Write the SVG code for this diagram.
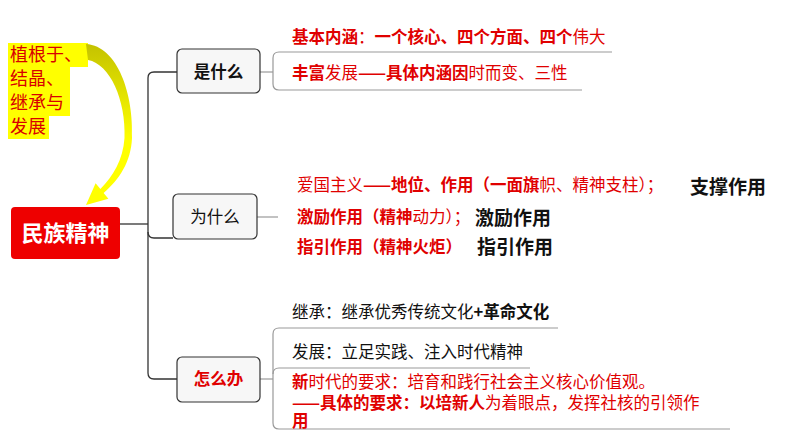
<svg xmlns="http://www.w3.org/2000/svg" width="794" height="447" viewBox="0 0 794 447">
<defs>
<linearGradient id="ag" gradientUnits="userSpaceOnUse" x1="0" y1="44" x2="0" y2="205">
<stop offset="0" stop-color="#C4C200"/>
<stop offset="0.35" stop-color="#E6E600"/>
<stop offset="0.6" stop-color="#FFFF00"/>
<stop offset="1" stop-color="#FFFF00"/>
</linearGradient>
</defs>
<style>
text{font-family:"Noto Sans CJK SC","Microsoft YaHei",sans-serif;}
.r{fill:#E00000;font-size:16.5px;}
.k{fill:#111;font-size:16.5px;}
.kb{fill:#111;font-size:19px;font-weight:bold;}
.b{font-weight:bold;}
.box{fill:#F7F7F7;stroke:#333;stroke-width:1.2;}
.trunk{fill:none;stroke:#333;stroke-width:1.3;}
.br{fill:none;stroke:#999;stroke-width:1.2;}
</style>
<rect width="794" height="447" fill="#fff"/>

<g id="note">
<path d="M8,43 H88 V67 H70 V116 H49 V139 H8 Z" fill="#FFFF00"/>
<text x="10" y="61" fill="#D80000" font-size="18">植根于、</text>
<text x="10" y="85" fill="#D80000" font-size="18">结晶、</text>
<text x="10" y="109" fill="#D80000" font-size="18">继承与</text>
<text x="10" y="133" fill="#D80000" font-size="18">发展</text>
<path d="M86,44 C118,46 134,95 132,138 C131,162 119,180 103.6,192.9 L108.4,198.7 L86,205 L95.6,183.3 L100.4,189.1 C113,176 123,160 124.5,138 C126,100 110,64 88,60 Z" fill="url(#ag)"/>
</g>

<g id="connectors">
<path class="trunk" d="M120,224 H148"/>
<path class="trunk" d="M177,72 H154 Q148,72 148,78 V373 Q148,379 154,379 H177"/>
<path class="trunk" d="M148,232 Q148,238 154,238 H173"/>
<path class="br" d="M260,72 H273"/>
<path class="br" d="M612,52 H279 Q273,52 273,58 V84 Q273,90 279,90 H582"/>
<path class="br" d="M257,217 H278"/>
<path class="br" d="M260,379 H273"/>
<path class="br" d="M558,328 H279 Q273,328 273,334 V423 Q273,429 279,429 H730"/>
<path class="br" d="M530,368 H279 Q273,368 273,374"/>
</g>

<g id="root">
<rect x="11" y="207" width="109" height="52" rx="4" fill="#EE0000"/>
<text x="65.5" y="241" fill="#fff" font-size="22" font-weight="bold" text-anchor="middle">民族精神</text>
</g>

<g id="what">
<rect class="box" x="177" y="49" width="83" height="44" rx="5"/>
<text x="218.5" y="78" class="k b" text-anchor="middle">是什么</text>
</g>
<g id="what-items">
<text x="292" y="43" class="r"><tspan class="b">基本内涵</tspan>：<tspan class="b">一个核心、四个方面、四个</tspan>伟大</text>
<text x="292" y="79" class="r"><tspan class="b">丰富</tspan>发展<tspan class="b">——具体内涵因</tspan>时而变、三性</text>
</g>

<g id="why">
<rect class="box" x="173" y="194" width="84" height="45" rx="5"/>
<text x="215" y="223" class="k" text-anchor="middle">为什么</text>
</g>
<g id="why-items">
<text x="297" y="191" class="r">爱国主义<tspan class="b">——地位、作用（一面旗</tspan>帜、精神支柱）；</text>
<text x="690" y="194" class="kb">支撑作用</text>
<text x="297" y="223" class="r"><tspan class="b">激励作用（精神</tspan>动力）；</text>
<text x="475" y="225" class="kb">激励作用</text>
<text x="297" y="253" class="r b">指引作用（精神火炬）</text>
<text x="477" y="254" class="kb">指引作用</text>
</g>

<g id="how">
<rect class="box" x="177" y="357" width="83" height="45" rx="5"/>
<text x="218.5" y="385" class="r b" text-anchor="middle">怎么办</text>
</g>
<g id="how-items">
<text x="292" y="318" class="k">继承：继承优秀传统文化<tspan class="b">+革命文化</tspan></text>
<text x="292" y="358" class="k">发展：立足实践、注入时代精神</text>
<text x="292" y="388" class="r"><tspan class="b">新</tspan>时代的要求：培育和践行社会主义核心价值观。</text>
<text x="292" y="409" class="r"><tspan class="b">——具体的要求：以培新人</tspan>为着眼点，发挥社核的引领作</text>
<text x="292" y="427" class="r b">用</text>
</g>
</svg>
